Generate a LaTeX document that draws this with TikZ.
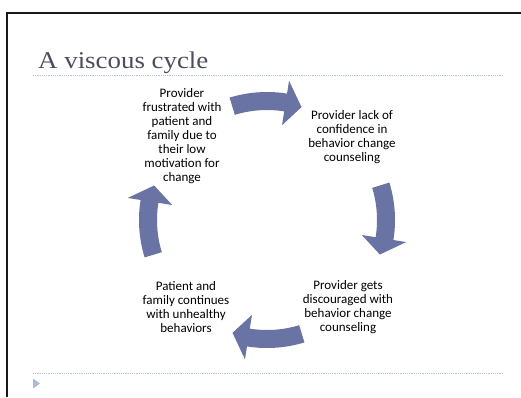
\documentclass[tikz,border=0pt]{standalone}
\usepackage{fontspec}
\setmainfont{Carlito}
\newfontfamily\titlefont{Liberation Serif}
\definecolor{arrowfill}{HTML}{6A74A4}
\definecolor{dotline}{HTML}{B2C4D8}
\definecolor{titlecol}{HTML}{4C4C5C}
\definecolor{tricol}{HTML}{A9BDD8}
\tikzset{
  cyclabel/.style={align=center, font=\fontsize{13}{14}\selectfont, text=black, inner sep=0pt},
  cycarrowstyle/.style={fill=arrowfill, draw=none},
  sepline/.style={draw=dotline, line width=1pt, dash pattern=on 1.2pt off 1pt},
}
\newcommand\cycarrow[1]{%
  \fill[cycarrowstyle]
    plot[domain={#1+17}:{#1-9}, samples=20] ({267+128*cos(\x)},{220-128*sin(\x)})
    -- ({267+141*cos(#1-9)},{220-141*sin(#1-9)})
    -- ({267+118*cos(#1-17)},{220-118*sin(#1-17)})
    -- ({267+96*cos(#1-9)},{220-96*sin(#1-9)})
    -- plot[domain={#1-9}:{#1+17}, samples=20] ({267+110*cos(\x)},{220-110*sin(\x)})
    -- cycle;}
\begin{document}
\begin{tikzpicture}[x=1pt,y=-1pt]
\useasboundingbox (0,0) rectangle (521,397);
\fill[white] (0,0) rectangle (521,397);
% frame
\draw[line width=2pt, black!90] (7,397) -- (7,12.5) -- (521,12.5);
% title
\node[anchor=base west, inner sep=0pt, text=titlecol] (title) at (38,68.5)
  {\scalebox{1.12}[1]{\titlefont\fontsize{24}{28}\selectfont A viscous cycle}};
\draw[sepline] (33,75.5) -- (502,75.5);
\draw[sepline] (33,373) -- (502,373);
\fill[tricol] (33,378.5) -- (40,383.5) -- (33,388.5) -- cycle;
% arrows
\cycarrow{90}
\cycarrow{0}
\cycarrow{-90}
\cycarrow{180}
% labels
\node[cyclabel] (tl) at (182,136) {Provider\\frustrated with\\patient and\\family due to\\their low\\motivation for\\change};
\node[cyclabel] (tr) at (352,137) {Provider lack of\\confidence in\\behavior change\\counseling};
\node[cyclabel] (br) at (348,307) {Provider gets\\discouraged with\\behavior change\\counseling};
\node[cyclabel] (bl) at (186,307) {Patient and\\family continues\\with unhealthy\\behaviors};
\end{tikzpicture}
\end{document}
